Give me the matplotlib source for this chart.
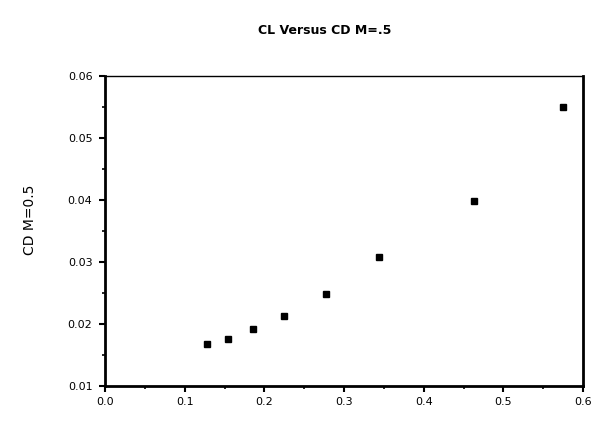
import matplotlib.pyplot as plt
from matplotlib.ticker import MultipleLocator, FormatStrFormatter

# Data
cl = [0.128, 0.154, 0.186, 0.225, 0.277, 0.344, 0.463, 0.575]
cd = [0.0168, 0.0176, 0.0192, 0.0213, 0.0249, 0.0308, 0.0398, 0.0550]

fig = plt.figure(figsize=(5.95, 4.34), dpi=100)
ax = fig.add_axes([105 / 595, 1 - 386 / 434, (583 - 105) / 595, (386 - 76) / 434])

ax.plot(cl, cd, linestyle='none', marker='s', markersize=5, color='black')

ax.set_xlim(0.0, 0.6)
ax.set_ylim(0.01, 0.06)
ax.xaxis.set_major_locator(MultipleLocator(0.1))
ax.xaxis.set_minor_locator(MultipleLocator(0.05))
ax.yaxis.set_major_locator(MultipleLocator(0.01))
ax.yaxis.set_minor_locator(MultipleLocator(0.005))
ax.xaxis.set_major_formatter(FormatStrFormatter('%.1f'))
ax.yaxis.set_major_formatter(FormatStrFormatter('%.2f'))

ax.tick_params(which='major', direction='out', length=4, width=1.5, labelsize=8, pad=5)
ax.tick_params(which='minor', direction='out', length=2.5, width=1.2)
ax.tick_params(axis='x', which='major', pad=4)
for s in ax.spines.values():
    s.set_linewidth(2)
ax.spines['top'].set_linewidth(1)

fig.text(325 / 595, 1 - 30 / 434, 'CL Versus CD M=.5', ha='center', va='center',
         fontsize=9, fontweight='bold')
fig.text(30 / 595, 1 - 220 / 434, 'CD M=0.5', ha='center', va='center',
         rotation=90, fontsize=10)

fig.savefig('out.png', dpi=100)
